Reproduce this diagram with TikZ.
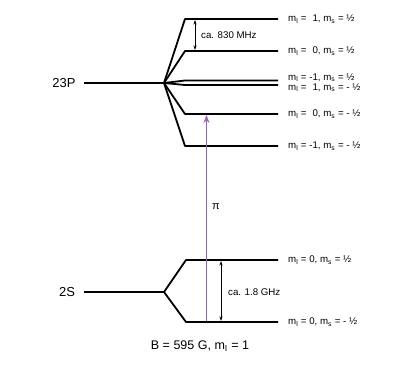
\documentclass[tikz,border=0pt]{standalone}
\usepackage{fontspec}
\setmainfont{Liberation Sans}
\usetikzlibrary{arrows.meta}
\definecolor{piviolet}{HTML}{9B63B8}
\begin{document}
\begin{tikzpicture}[x=1pt,y=-1pt,
  level/.style={line width=1.8pt,black},
  fan/.style={line width=1.8pt,black,line join=round},
  gap/.style={line width=0.8pt,{Stealth[length=4.5pt,width=3pt]}-{Stealth[length=4.5pt,width=3pt]}},
  lbl/.style={anchor=west,font=\fontsize{9.7}{11}\selectfont,inner sep=0pt},
  big/.style={font=\fontsize{13}{15}\selectfont,inner sep=0pt},
  mid/.style={font=\fontsize{9.7}{11}\selectfont,inner sep=0pt}]
\useasboundingbox (0,0) rectangle (416,366);
% 23P
\node[big] (p) at (64,83) {23P};
\coordinate (pf) at (164,83);
\draw[level] (84,83) -- (pf);
\foreach \n/\y in {a/19,b/51,c/80.5,d/85,e/114,f/146}{
  \coordinate (\n1) at (185,\y);
  \coordinate (\n2) at (278,\y);
  \draw[fan] (pf) -- (\n1) -- (\n2);
}
\node[lbl] (la) at (288,19) {m\textsubscript{l} = \hphantom{-}1, m\textsubscript{s} = ½};
\node[lbl] (lb) at (288,51) {m\textsubscript{l} = \hphantom{-}0, m\textsubscript{s} = ½};
\node[lbl] (lc) at (288,77.5) {m\textsubscript{l} = -1, m\textsubscript{s} = ½};
\node[lbl] (ld) at (288,87.5) {m\textsubscript{l} = \hphantom{-}1, m\textsubscript{s} = - ½};
\node[lbl] (le) at (288,114) {m\textsubscript{l} = \hphantom{-}0, m\textsubscript{s} = - ½};
\node[lbl] (lf) at (288,146) {m\textsubscript{l} = -1, m\textsubscript{s} = - ½};
\coordinate (ga) at (195,20);
\coordinate (gb) at (195,50);
\draw[gap] (ga) -- (gb);
\node[mid,anchor=west] (g1) at (201,35) {ca. 830 MHz};
% 2S
\node[big] (s) at (67,292) {2S};
\coordinate (sf) at (164,292);
\draw[level] (84,292) -- (sf);
\foreach \n/\y in {u/260,w/322}{
  \coordinate (\n1) at (186,\y);
  \coordinate (\n2) at (278,\y);
  \draw[fan] (sf) -- (\n1) -- (\n2);
}
\node[lbl] (lu) at (288,260) {m\textsubscript{l} = 0, m\textsubscript{s} = ½};
\node[lbl] (lw) at (288,322) {m\textsubscript{l} = 0, m\textsubscript{s} = - ½};
\coordinate (gu) at (221,261);
\coordinate (gw) at (221,321);
\draw[gap] (gu) -- (gw);
\node[mid,anchor=west] (g2) at (228,292) {ca. 1.8 GHz};
% pi transition
\coordinate (t0) at (206.5,321);
\coordinate (t1) at (206.5,115);
\draw[piviolet,line width=1.8pt,-{Stealth[length=8pt,width=6pt]}] (t0) -- (t1);
\node[mid,font=\fontsize{11}{12}\selectfont] (pi) at (216,207) {π};
\node[big,font=\fontsize{12.5}{14}\selectfont] (B) at (200,346) {B = 595 G, m\textsubscript{I} = 1};
\end{tikzpicture}
\end{document}
